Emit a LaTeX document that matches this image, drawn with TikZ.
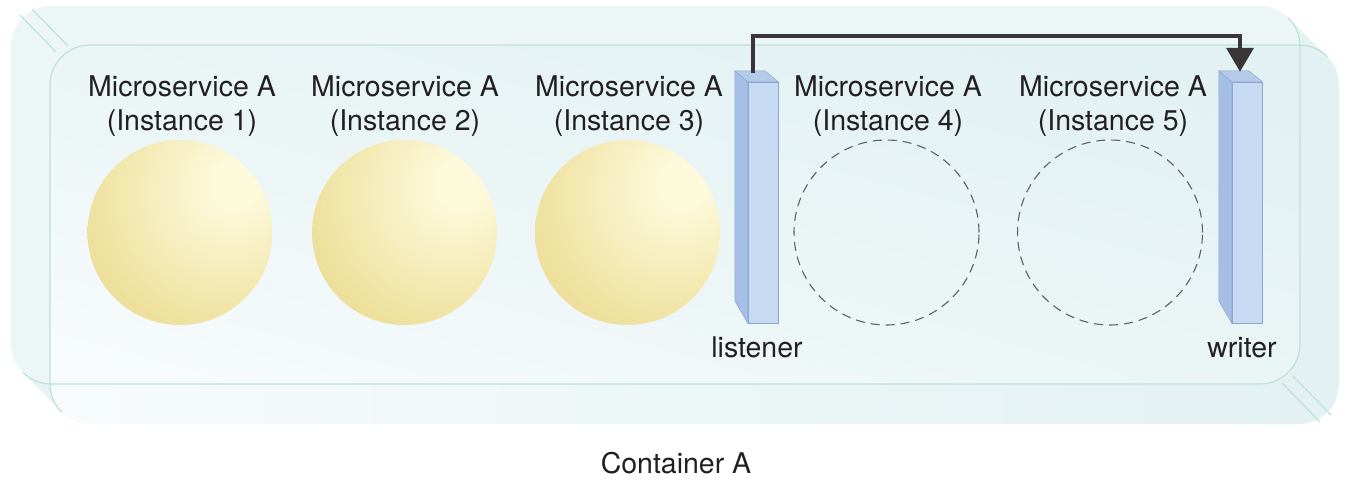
\documentclass[tikz,border=0pt]{standalone}
\usepackage{fontspec}
\setmainfont{TeX Gyre Heros}
\usetikzlibrary{arrows.meta, positioning, calc}

\definecolor{plateBack}{HTML}{EDF6F7}
\definecolor{plateBody}{HTML}{E6F3F3}
\definecolor{plateDeep}{HTML}{E2F1F2}
\definecolor{plateSheen}{HTML}{F7FBFC}
\definecolor{plateLine}{HTML}{BCE2D5}
\definecolor{orbHi}{HTML}{FDFADB}
\definecolor{orbMid}{HTML}{EEE09C}
\definecolor{orbBase}{HTML}{E5D488}
\definecolor{barFront}{HTML}{C6DBF1}
\definecolor{barSide}{HTML}{A5BEE3}
\definecolor{barTop}{HTML}{B3CAE9}
\definecolor{barEdge}{HTML}{8FA7CF}
\definecolor{inkDark}{HTML}{231F20}
\definecolor{arrowInk}{HTML}{3A3536}

\pgfdeclareradialshading{orb}{\pgfpoint{16bp}{14bp}}{%
  color(0bp)=(orbHi); color(6bp)=(orbHi); color(36bp)=(orbMid);
  color(60bp)=(orbBase); color(100bp)=(orbBase)}

\begin{document}
\begin{tikzpicture}[
    x=1pt, y=-1pt,
    font=\fontsize{28.5}{34}\selectfont,
    every node/.style={align=center, text=inkDark},
    plate/.style={draw=plateLine, line width=1.2pt, rounded corners=40pt},
    bevel/.style={draw=plateLine, line width=1.2pt},
    orbNode/.style={circle, minimum size=185pt, inner sep=0pt, shading=orb},
    ghost/.style={circle, minimum size=185pt, inner sep=0pt, draw=gray!75!black,
                  line width=1.1pt, dash pattern=on 9pt off 6pt},
    barFace/.style={rectangle, minimum width=30pt, minimum height=241pt,
                    inner sep=0pt, fill=barFront, draw=barEdge, line width=0.5pt},
    flow/.style={-{Triangle[width=27pt, length=24pt]}, line width=4pt,
                 draw=arrowInk, line cap=butt}
  ]
  \useasboundingbox (0,0) rectangle (1346,485);

  %% ---- Container plates ----
  \fill[plateBody] (22.7,372.3) -- (1288.3,17.7) -- (1327.3,56.7) -- (61.7,412.3) -- cycle;
  \shade[left color=plateSheen, right color=plateDeep, rounded corners=40pt]
    (50,45) rectangle (1339,424);
  \fill[plateBack, rounded corners=40pt] (11,6) rectangle (1300,384);
  \begin{scope}
    \clip[rounded corners=40pt] (11,6) rectangle (1300,384);
    \shade[top color=plateDeep, bottom color=plateSheen, shading angle=-15,
           middle color=plateDeep!60!plateSheen, rounded corners=40pt]
      (50,45) rectangle (1339,424);
  \end{scope}

  % inner edges only, outer rim stays unstroked
  \begin{scope}
    \clip (-64.9,447.9) -- (1453.9,21.1) -- (1453.9,-200) -- (-200,-200) -- (-200,447.9) -- cycle;
    \draw[plate] (50,45) rectangle (1339,424);
  \end{scope}
  \begin{scope}
    \clip (-103.9,407.9) -- (1414.9,-17.9) -- (1500,-17.9) -- (1500,600) -- (-103.9,600) -- cycle;
    \draw[plate] (11,6) rectangle (1300,384);
  \end{scope}
  \draw[bevel] (20,15) -- (56,52);
  \draw[bevel] (32,9) -- (68,46);
  \draw[bevel] (1282,383) -- (1320,422);
  \draw[bevel] (1293,376) -- (1331,415);

  %% ---- Instances ----
  \node[orbNode] (inst1) at (180,232.5) {};
  \node[orbNode] (inst2) at (404.5,232.5) {};
  \node[orbNode] (inst3) at (627.5,232.5) {};
  \node[ghost]   (inst4) at (886.5,232.5) {};
  \node[ghost]   (inst5) at (1110,232.5) {};

  \node (lbl1) at (182,106)   {Microservice A\\(Instance 1)};
  \node (lbl2) at (405,106)   {Microservice A\\(Instance 2)};
  \node (lbl3) at (629,106)   {Microservice A\\(Instance 3)};
  \node (lbl4) at (888,106)   {Microservice A\\(Instance 4)};
  \node (lbl5) at (1113,106)  {Microservice A\\(Instance 5)};

  %% ---- Listener / writer bars ----
  \node[barFace] (lsn) at (763,202.5) {};
  \node[barFace] (wrt) at (1247,202.5) {};
  \foreach \b in {lsn, wrt} {
    \filldraw[fill=barSide, draw=barEdge, line width=0.5pt]
      (\b.north west) -- ++(-13,-11) -- ++(0,230) -- (\b.south west) -- cycle;
    \filldraw[fill=barTop, draw=barEdge, line width=0.5pt]
      (\b.north west) -- ++(-13,-11) -- ++(30,0) -- (\b.north east) -- cycle;
  }

  \node[anchor=base] (lsnlbl) at (757,357) {listener};
  \node[anchor=base] (wrtlbl) at (1242,357) {writer};

  %% ---- Hand-off arrow ----
  \coordinate (lsnTop) at ([xshift=-10pt, yshift=9pt]lsn.north);
  \coordinate (wrtTop) at ([xshift=-7pt, yshift=10pt]wrt.north);
  \draw[flow] (lsnTop) -- (lsnTop |- 0,36) -| (wrtTop);

  \node[anchor=base] (cont) at (676,473) {Container A};

\end{tikzpicture}
\end{document}
